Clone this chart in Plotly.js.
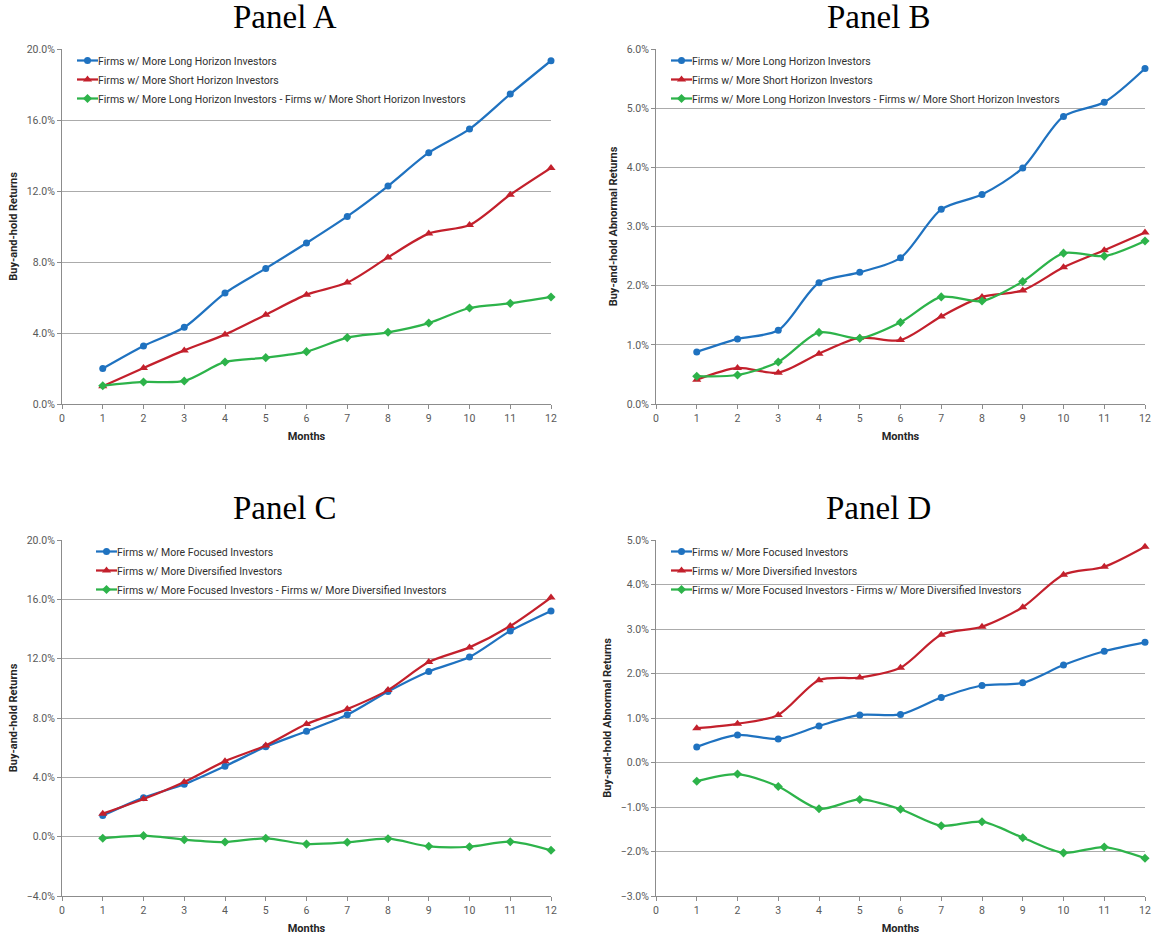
<!DOCTYPE html>
<html>
<head>
<meta charset="utf-8">
<script src="https://cdn.plot.ly/plotly-3.0.1.min.js"></script>
<style>
  html, body { margin: 0; padding: 0; background: #ffffff; }
  #chart { width: 1156px; height: 940px; }
</style>
</head>
<body>
<div id="chart"></div>
<script>
// ---------- data (values in percent) ----------
const months = [1, 2, 3, 4, 5, 6, 7, 8, 9, 10, 11, 12];

const panelTitles = ["Panel A", "Panel B", "Panel C", "Panel D"];
const yTitles = ["Buy-and-hold Returns", "Buy-and-hold Abnormal Returns",
                 "Buy-and-hold Returns", "Buy-and-hold Abnormal Returns"];
const xTitle = "Months";

const namesHorizon = [
  "Firms w/ More Long Horizon Investors",
  "Firms w/ More Short Horizon Investors",
  "Firms w/ More Long Horizon Investors - Firms w/ More Short Horizon Investors"
];
const namesFocus = [
  "Firms w/ More Focused Investors",
  "Firms w/ More Diversified Investors",
  "Firms w/ More Focused Investors - Firms w/ More Diversified Investors"
];

// Panel A: buy-and-hold returns
const panelA_long  = [2.00, 3.27, 4.32, 6.25, 7.64, 9.07, 10.57, 12.28, 14.16, 15.49, 17.46, 19.34];
const panelA_short = [1.00, 2.03, 3.02, 3.91, 5.03, 6.16, 6.84, 8.26, 9.60, 10.08, 11.79, 13.30];
const panelA_diff  = [1.03, 1.24, 1.30, 2.37, 2.61, 2.95, 3.74, 4.04, 4.56, 5.41, 5.67, 6.03];

// Panel B: buy-and-hold abnormal returns
const panelB_long  = [0.88, 1.10, 1.245, 2.05, 2.225, 2.47, 3.29, 3.54, 3.99, 4.86, 5.10, 5.67];
const panelB_short = [0.41, 0.61, 0.53, 0.85, 1.12, 1.08, 1.48, 1.81, 1.92, 2.31, 2.60, 2.90];
const panelB_diff  = [0.47, 0.49, 0.71, 1.21, 1.11, 1.38, 1.81, 1.74, 2.07, 2.55, 2.50, 2.755];

// Panel C: buy-and-hold returns
const panelC_focused     = [1.42, 2.63, 3.53, 4.75, 6.06, 7.11, 8.22, 9.79, 11.14, 12.11, 13.87, 15.22];
const panelC_diversified = [1.55, 2.54, 3.69, 5.09, 6.15, 7.59, 8.60, 9.88, 11.77, 12.76, 14.20, 16.12];
const panelC_diff        = [-0.11, 0.07, -0.20, -0.36, -0.11, -0.50, -0.38, -0.14, -0.65, -0.68, -0.34, -0.92];

// Panel D: buy-and-hold abnormal returns
const panelD_focused     = [0.35, 0.62, 0.53, 0.82, 1.07, 1.08, 1.46, 1.73, 1.79, 2.19, 2.50, 2.70];
const panelD_diversified = [0.77, 0.87, 1.07, 1.85, 1.91, 2.13, 2.87, 3.05, 3.49, 4.22, 4.40, 4.85];
const panelD_diff        = [-0.42, -0.26, -0.54, -1.04, -0.83, -1.05, -1.42, -1.33, -1.69, -2.03, -1.90, -2.15];

// y-axis ranges / tick steps
const yRanges = [[0, 20], [0, 6], [-4, 20], [-3, 5]];
const yDticks = [4, 1, 4, 1];
const xRange = [0, 12];

// ---------- styling ----------
const W = 1156, H = 940;
const colors = ["#1F72C0", "#C3202C", "#2DB34A"];
const symbols = ["circle", "triangle-up", "diamond"];
const markerSizes = [7, 8, 7];
const uiFont = "Roboto, 'Noto Sans', 'Liberation Sans', sans-serif";
const tickColor = "#595959";
const gridColor = "#ABABAB";

// plot areas in pixels [left, right, top, bottom]
const boxes = [
  [62, 551, 49, 404],
  [656, 1145, 49, 404],
  [62, 551, 540, 896],
  [656, 1145, 540, 896]
];
// legend text start (pixels from plot-area left edge)
const legendTextOffsets = [37, 37, 56, 37];

const seriesByPanel = [
  [panelA_long, panelA_short, panelA_diff],
  [panelB_long, panelB_short, panelB_diff],
  [panelC_focused, panelC_diversified, panelC_diff],
  [panelD_focused, panelD_diversified, panelD_diff]
];
const namesByPanel = [namesHorizon, namesHorizon, namesFocus, namesFocus];

const traces = [];
const layout = {
  width: W, height: H,
  margin: {l: 0, r: 0, t: 0, b: 0},
  paper_bgcolor: "#ffffff",
  plot_bgcolor: "#ffffff",
  showlegend: true,
  annotations: [],
  font: {family: uiFont, size: 10, color: tickColor}
};

for (let p = 0; p < 4; p++) {
  const b = boxes[p];
  const sfx = p === 0 ? "" : String(p + 1);
  const legendId = "legend" + sfx;
  for (let s = 0; s < 3; s++) {
    traces.push({
      type: "scatter",
      mode: "lines+markers",
      x: months,
      y: seriesByPanel[p][s],
      name: namesByPanel[p][s],
      xaxis: "x" + sfx,
      yaxis: "y" + sfx,
      legend: legendId,
      cliponaxis: false,
      line: {color: colors[s], width: 2.25, shape: "spline", smoothing: 0.8},
      marker: {color: colors[s], symbol: symbols[s], size: markerSizes[s]},
      hoverinfo: "x+y+name"
    });
  }
  const xd = [b[0] / W, b[1] / W];
  const yd = [1 - b[3] / H, 1 - b[2] / H];
  layout["xaxis" + sfx] = {
    domain: xd, anchor: "y" + sfx,
    range: xRange, dtick: 1, tick0: 0,
    showgrid: false, zeroline: false,
    showline: true, linecolor: "#8C8C8C", linewidth: 1,
    ticks: "outside", ticklen: 4, tickcolor: "#8C8C8C",
    tickfont: {family: uiFont, size: 10.5, color: tickColor},
    title: {text: xTitle, standoff: 8,
            font: {family: uiFont, size: 11, color: "#262626", weight: "bold"}}
  };
  layout["yaxis" + sfx] = {
    domain: yd, anchor: "x" + sfx,
    range: yRanges[p], dtick: yDticks[p], tick0: 0,
    ticksuffix: "%", tickformat: ".1f",
    showgrid: true, gridcolor: gridColor, gridwidth: 1,
    zeroline: false,
    showline: true, linecolor: "#8C8C8C", linewidth: 1,
    ticks: "outside", ticklen: 4, tickcolor: "#8C8C8C",
    tickfont: {family: uiFont, size: 10.5, color: tickColor},
    title: {text: yTitles[p], standoff: 6,
            font: {family: uiFont, size: 11, color: "#262626", weight: "bold"}}
  };
  layout[legendId] = {
    x: (b[0] + legendTextOffsets[p] - 41) / W, y: 1 - (b[2] - 3) / H,
    xanchor: "left", yanchor: "top",
    bgcolor: "rgba(255,255,255,0)",
    borderwidth: 0,
    font: {family: uiFont, size: 10.5, color: "#303030"},
    itemwidth: 30,
    tracegroupgap: 0
  };
  layout.annotations.push({
    text: panelTitles[p],
    xref: "paper", yref: "paper",
    x: ((b[0] + b[1]) / 2 - 22) / W,
    y: 1 - (b[2] - 32) / H,
    xanchor: "center", yanchor: "middle",
    showarrow: false,
    font: {family: "'Liberation Serif', 'DejaVu Serif', serif", size: 33, color: "#000000"}
  });
}

Plotly.newPlot("chart", traces, layout, {displayModeBar: false, staticPlot: true}).then(function (gd) {
  // shorter legend line sample, touching the label (Excel style)
  gd.querySelectorAll("g.legendlines path").forEach(function (el) {
    el.setAttribute("d", "M19,0h21");
  });
  gd.querySelectorAll("g.legendpoints path.scatterpts").forEach(function (el) {
    el.setAttribute("transform", "translate(29.5,0)");
  });
});
</script>
</body>
</html>
